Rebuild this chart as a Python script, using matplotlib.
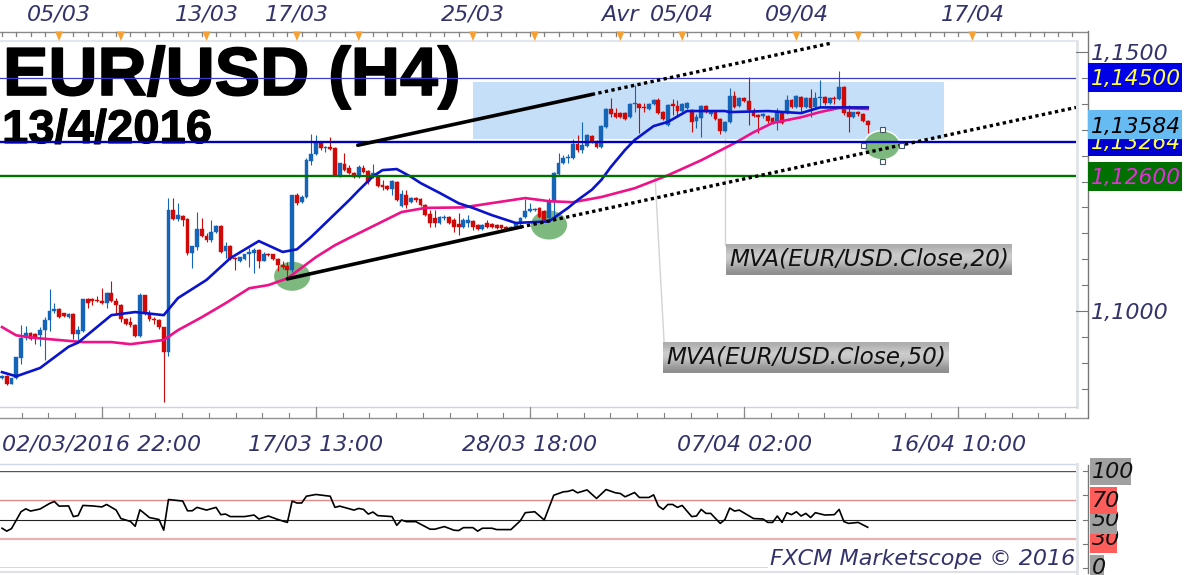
import numpy as np
import matplotlib
matplotlib.use("Agg")
import matplotlib.pyplot as plt
import matplotlib.patheffects as pe
from matplotlib.patches import Ellipse, Rectangle, Polygon

# -----------------------------
# 1. Data
# -----------------------------
opens = [
    1.0870, 1.0874, 1.0859, 1.0870, 1.0909, 1.0948, 1.0958, 1.0956, 1.0954, 1.0963,
    1.0983, 1.1000, 1.1004, 1.0996, 1.0988, 1.0994, 1.0956, 1.0962, 1.1023, 1.1023,
    1.1021, 1.1019, 1.1015, 1.1035, 1.1019, 1.1012, 1.0985, 1.0979, 1.0973, 1.0952,
    1.1031, 1.0994, 1.0985, 1.0983, 1.0969, 1.0921, 1.1195, 1.1178, 1.1183, 1.1178,
    1.1112, 1.1124, 1.1158, 1.1145, 1.1137, 1.1153, 1.1164, 1.1116, 1.1126, 1.1102,
    1.1097, 1.1100, 1.1110, 1.1112, 1.1118, 1.1097, 1.1110, 1.1110, 1.1100, 1.1089,
    1.1087, 1.1079, 1.1224, 1.1210, 1.1220, 1.1290, 1.1303, 1.1324, 1.1314, 1.1316,
    1.1314, 1.1263, 1.1284, 1.1276, 1.1266, 1.1259, 1.1276, 1.1270, 1.1259, 1.1259,
    1.1243, 1.1241, 1.1235, 1.1249, 1.1203, 1.1224, 1.1210, 1.1218, 1.1216, 1.1205,
    1.1187, 1.1180, 1.1170, 1.1180, 1.1181, 1.1176, 1.1168, 1.1162, 1.1170, 1.1174,
    1.1166, 1.1158, 1.1170, 1.1168, 1.1166, 1.1166, 1.1162, 1.1158, 1.1162, 1.1168,
    1.1181, 1.1193, 1.1195, 1.1199, 1.1193, 1.1180, 1.1210, 1.1264, 1.1286, 1.1295,
    1.1295, 1.1322, 1.1311, 1.1318, 1.1337, 1.1328, 1.1316, 1.1355, 1.1390, 1.1382,
    1.1382, 1.1382, 1.1374, 1.1399, 1.1399, 1.1393, 1.1390, 1.1399, 1.1407, 1.1384,
    1.1359, 1.1399, 1.1395, 1.1386, 1.1391, 1.1388, 1.1366, 1.1372, 1.1395, 1.1380,
    1.1384, 1.1370, 1.1347, 1.1364, 1.1415, 1.1395, 1.1411, 1.1405, 1.1384, 1.1378,
    1.1376, 1.1376, 1.1372, 1.1362, 1.1382, 1.1382, 1.1407, 1.1393, 1.1413, 1.1393,
    1.1411, 1.1393, 1.1411, 1.1413, 1.1401, 1.1411, 1.1409, 1.1432, 1.1384, 1.1374,
    1.1384, 1.1380, 1.1366,
]
highs = [
    1.0876, 1.0876, 1.0870, 1.0911, 1.0973, 1.0971, 1.0960, 1.0958, 1.0969, 1.0988,
    1.1043, 1.1015, 1.1006, 1.0996, 1.0996, 1.0996, 1.0971, 1.1023, 1.1025, 1.1025,
    1.1029, 1.1044, 1.1037, 1.1058, 1.1025, 1.1013, 1.0986, 1.0988, 1.0975, 1.1035,
    1.1031, 1.1002, 1.0988, 1.0985, 1.0969, 1.1218, 1.1218, 1.1208, 1.1185, 1.1180,
    1.1126, 1.1191, 1.1180, 1.1151, 1.1176, 1.1166, 1.1166, 1.1133, 1.1127, 1.1104,
    1.1104, 1.1110, 1.1122, 1.1122, 1.1120, 1.1114, 1.1112, 1.1110, 1.1102, 1.1097,
    1.1095, 1.1224, 1.1228, 1.1224, 1.1295, 1.1341, 1.1339, 1.1326, 1.1318, 1.1335,
    1.1316, 1.1286, 1.1305, 1.1282, 1.1268, 1.1282, 1.1282, 1.1272, 1.1284, 1.1261,
    1.1253, 1.1243, 1.1253, 1.1251, 1.1234, 1.1234, 1.1220, 1.1220, 1.1218, 1.1207,
    1.1195, 1.1195, 1.1183, 1.1185, 1.1183, 1.1180, 1.1189, 1.1180, 1.1185, 1.1176,
    1.1168, 1.1168, 1.1176, 1.1170, 1.1168, 1.1166, 1.1164, 1.1164, 1.1172, 1.1181,
    1.1216, 1.1208, 1.1199, 1.1201, 1.1195, 1.1218, 1.1268, 1.1305, 1.1301, 1.1303,
    1.1332, 1.1339, 1.1364, 1.1341, 1.1339, 1.1330, 1.1359, 1.1391, 1.1411, 1.1391,
    1.1384, 1.1384, 1.1401, 1.1436, 1.1401, 1.1401, 1.1401, 1.1409, 1.1411, 1.1386,
    1.1399, 1.1409, 1.1407, 1.1401, 1.1403, 1.1390, 1.1380, 1.1397, 1.1397, 1.1388,
    1.1386, 1.1372, 1.1366, 1.1430, 1.1424, 1.1413, 1.1413, 1.1452, 1.1391, 1.1380,
    1.1382, 1.1378, 1.1374, 1.1391, 1.1384, 1.1417, 1.1409, 1.1417, 1.1415, 1.1413,
    1.1428, 1.1422, 1.1446, 1.1415, 1.1413, 1.1415, 1.1463, 1.1434, 1.1397, 1.1384,
    1.1386, 1.1382, 1.1368,
]
lows = [
    1.0869, 1.0857, 1.0859, 1.0869, 1.0898, 1.0944, 1.0944, 1.0936, 1.0933, 1.0905,
    1.0962, 1.0996, 1.0986, 1.0988, 1.0986, 1.0946, 1.0944, 1.0960, 1.1006, 1.1012,
    1.1017, 1.1013, 1.1006, 1.1017, 1.0996, 1.0979, 1.0973, 1.0969, 1.0950, 1.0950,
    1.0992, 1.0981, 1.0975, 1.0965, 1.0824, 1.0913, 1.1176, 1.1174, 1.1164, 1.1108,
    1.1083, 1.1118, 1.1143, 1.1133, 1.1133, 1.1151, 1.1112, 1.1102, 1.1098, 1.1079,
    1.1095, 1.1098, 1.1085, 1.1073, 1.1083, 1.1097, 1.1106, 1.1098, 1.1077, 1.1081,
    1.1060, 1.1075, 1.1205, 1.1208, 1.1218, 1.1282, 1.1301, 1.1311, 1.1307, 1.1311,
    1.1261, 1.1259, 1.1270, 1.1264, 1.1257, 1.1257, 1.1266, 1.1245, 1.1257, 1.1239,
    1.1234, 1.1234, 1.1224, 1.1212, 1.1201, 1.1199, 1.1208, 1.1210, 1.1203, 1.1183,
    1.1162, 1.1162, 1.1168, 1.1176, 1.1168, 1.1153, 1.1147, 1.1160, 1.1162, 1.1156,
    1.1156, 1.1156, 1.1160, 1.1160, 1.1158, 1.1158, 1.1156, 1.1156, 1.1160, 1.1166,
    1.1180, 1.1191, 1.1193, 1.1180, 1.1174, 1.1178, 1.1176, 1.1263, 1.1284, 1.1286,
    1.1293, 1.1307, 1.1305, 1.1316, 1.1324, 1.1314, 1.1314, 1.1353, 1.1374, 1.1372,
    1.1372, 1.1368, 1.1372, 1.1384, 1.1343, 1.1384, 1.1388, 1.1397, 1.1380, 1.1368,
    1.1357, 1.1378, 1.1374, 1.1384, 1.1390, 1.1345, 1.1353, 1.1335, 1.1382, 1.1376,
    1.1368, 1.1341, 1.1345, 1.1362, 1.1391, 1.1393, 1.1403, 1.1359, 1.1374, 1.1343,
    1.1372, 1.1362, 1.1361, 1.1349, 1.1361, 1.1380, 1.1391, 1.1391, 1.1382, 1.1391,
    1.1374, 1.1391, 1.1393, 1.1397, 1.1399, 1.1399, 1.1407, 1.1378, 1.1345, 1.1372,
    1.1376, 1.1364, 1.1343,
]
closes = [
    1.0874, 1.0859, 1.0870, 1.0911, 1.0948, 1.0958, 1.0946, 1.0948, 1.0963, 1.0983,
    1.1000, 1.1004, 1.0988, 1.0990, 1.0994, 1.0956, 1.0963, 1.1023, 1.1015, 1.1019,
    1.1019, 1.1015, 1.1035, 1.1019, 1.1012, 1.0985, 1.0975, 1.0973, 1.0952, 1.1031,
    1.0996, 1.0985, 1.0983, 1.0969, 1.0921, 1.1195, 1.1178, 1.1185, 1.1176, 1.1112,
    1.1126, 1.1158, 1.1145, 1.1137, 1.1153, 1.1164, 1.1114, 1.1126, 1.1100, 1.1100,
    1.1104, 1.1110, 1.1114, 1.1118, 1.1097, 1.1110, 1.1108, 1.1100, 1.1089, 1.1085,
    1.1079, 1.1224, 1.1208, 1.1220, 1.1292, 1.1303, 1.1326, 1.1314, 1.1316, 1.1313,
    1.1263, 1.1286, 1.1272, 1.1266, 1.1259, 1.1278, 1.1268, 1.1249, 1.1266, 1.1241,
    1.1239, 1.1235, 1.1251, 1.1214, 1.1226, 1.1205, 1.1218, 1.1214, 1.1205, 1.1185,
    1.1170, 1.1170, 1.1181, 1.1181, 1.1170, 1.1162, 1.1162, 1.1176, 1.1176, 1.1162,
    1.1158, 1.1166, 1.1162, 1.1162, 1.1160, 1.1160, 1.1158, 1.1162, 1.1170, 1.1180,
    1.1193, 1.1197, 1.1197, 1.1181, 1.1176, 1.1210, 1.1266, 1.1286, 1.1295, 1.1297,
    1.1322, 1.1311, 1.1320, 1.1339, 1.1326, 1.1316, 1.1357, 1.1390, 1.1380, 1.1374,
    1.1374, 1.1370, 1.1399, 1.1401, 1.1391, 1.1391, 1.1399, 1.1407, 1.1382, 1.1370,
    1.1397, 1.1395, 1.1386, 1.1399, 1.1401, 1.1364, 1.1374, 1.1395, 1.1384, 1.1384,
    1.1370, 1.1347, 1.1364, 1.1415, 1.1393, 1.1411, 1.1405, 1.1388, 1.1376, 1.1374,
    1.1380, 1.1366, 1.1362, 1.1384, 1.1362, 1.1407, 1.1393, 1.1415, 1.1393, 1.1411,
    1.1391, 1.1411, 1.1413, 1.1401, 1.1411, 1.1409, 1.1432, 1.1382, 1.1374, 1.1384,
    1.1380, 1.1366, 1.1359,
]

ma20_bars = [0, 3, 8, 14, 16, 23, 28, 34, 37, 43, 48, 54, 59, 62, 65, 73, 75, 77, 78, 80, 83,
             86, 88, 92, 96, 99, 103, 108, 115, 119, 121, 124, 126, 128, 131, 133, 137, 140,
             144, 152, 153, 161, 168, 172, 177, 182]
ma20_vals = [1.0882, 1.0874, 1.0890, 1.0931, 1.0939, 1.0992, 1.0998, 1.0992, 1.1025, 1.1060,
             1.1102, 1.1135, 1.1114, 1.1119, 1.1143, 1.1214, 1.1233, 1.1251, 1.1260, 1.1272,
             1.1274, 1.1259, 1.1247, 1.1228, 1.1208, 1.1199, 1.1185, 1.1170, 1.1173, 1.1199,
             1.1214, 1.1234, 1.1253, 1.1278, 1.1311, 1.1330, 1.1357, 1.1365, 1.1386,
             1.1386, 1.1384, 1.1386, 1.1382, 1.1393, 1.1393, 1.1393]
ma50_bars = [0, 3, 7, 17, 23, 27, 34, 37, 42, 47, 52, 56, 60, 66, 70, 73, 84, 89, 97, 110, 115,
             120, 126, 133, 140, 147, 154, 158, 162, 168, 172, 176, 182]
ma50_vals = [1.0969, 1.0953, 1.0948, 1.0940, 1.0940, 1.0936, 1.0944, 1.0963, 1.0988, 1.1015,
             1.1044, 1.1050, 1.1063, 1.1104, 1.1127, 1.1141, 1.1191, 1.1199, 1.1200, 1.1218,
             1.1212, 1.1210, 1.1220, 1.1237, 1.1262, 1.1291, 1.1324, 1.1345, 1.1363, 1.1374,
             1.1384, 1.1392, 1.1390]

rsi_bars = [0, 1, 2, 4, 5, 6, 8, 10, 11, 12, 14, 15, 16, 17, 19, 21, 22, 24, 25, 27, 28, 29,
            31, 33, 34, 35, 38, 39, 40, 41, 43, 45, 46, 47, 48, 51, 53, 54, 56, 58, 60, 61,
            62, 63, 64, 66, 69, 70, 71, 74, 75, 76, 77, 78, 79, 82, 83, 84, 85, 87, 90, 91,
            93, 95, 96, 97, 99, 100, 101, 103, 104, 107, 109, 110, 112, 114, 116, 118, 119,
            120, 121, 123, 125, 127, 129, 130, 131, 133, 134, 136, 137, 138, 139, 140, 141,
            142, 143, 145, 146, 147, 148, 149, 151, 152, 153, 154, 155, 158, 160, 161, 162,
            163, 164, 165, 166, 167, 168, 169, 170, 171, 173, 175, 176, 177, 178, 180, 182]
rsi_vals = [41, 38, 40.6, 58, 61, 58.7, 60.8, 66.5, 68.6, 63.8, 64, 53, 54, 64.5, 64, 63, 65.5,
            59.7, 51, 48, 43, 60, 52, 50, 39, 70.6, 69, 59, 59, 62.5, 59.7, 62.5, 55, 55.6, 53,
            53, 54.6, 50.5, 53.6, 50, 47, 69, 67, 67, 74, 75.8, 74, 62.5, 63.8, 59.7, 61.4,
            60.4, 55.6, 57.7, 54, 53, 44, 49.5, 47.8, 47.8, 40, 40, 42.7, 39, 38.6, 41.6, 41.6,
            38, 41, 41, 39.6, 39.6, 48.8, 57, 58, 49.5, 75, 78.5, 79, 80.5, 77.5, 80.5, 71.7,
            80.9, 77.5, 76.8, 73.4, 77.8, 72.7, 72.7, 75.4, 64, 60.4, 65.5, 65.5, 62.5, 64.5,
            53, 53.6, 60.4, 56.3, 56.3, 46, 50, 61.8, 58.7, 59.7, 51, 50.5, 47, 47, 53.6, 47,
            57, 55, 58, 53.6, 56.3, 52, 57, 54.6, 55, 60.4, 47.8, 46, 47, 42]

price_levels = [1.14500, 1.13264, 1.12600]
level_colors = ["#3c3cc8", "#0000b8", "#007000"]
level_widths = [0.9, 1.7, 1.7]
level_text_colors = ["#ffff40", "#ffff40", "#e030d8"]
level_box_colors = ["#0000e6", "#0000d0", "#007000"]

top_bars = [12, 25, 43, 62, 75, 99, 112, 130, 143, 167, 180, 204]
top_labels = {12: "05/03", 43: "13/03", 62: "17/03", 99: "25/03", 130: "Avr", 143: "05/04",
              167: "09/04", 204: "17/04"}
bottom_bars = [21, 66, 111, 156, 201]
bottom_labels = ["02/03/2016 22:00", "17/03 13:00", "28/03 18:00", "07/04 02:00", "16/04 10:00"]

# -----------------------------
# 2. Figure layout (pixels)
# -----------------------------
W, H = 1200, 575
TXT = "#33336b"
plt.rcParams["font.family"] = "DejaVu Sans"
fig = plt.figure(figsize=(W / 100, H / 100), dpi=100, facecolor="white")


def rect(x0, y0, x1, y1):
    return [x0 / W, 1 - y1 / H, (x1 - x0) / W, (y1 - y0) / H]


def price_px(p):
    return 52 + (1.15 - p) * 5180


main = fig.add_axes(rect(0, 41, 1076, 407))
rsi = fig.add_axes(rect(0, 471, 1076, 568))
over = fig.add_axes([0, 0, 1, 1], zorder=10)
over.patch.set_alpha(0)
over.axis("off")

xlim = (-0.42, 225.8)
main.set_xlim(xlim)
main.set_ylim(1.08147, 1.15212)
rsi.set_xlim(xlim)
rsi.set_ylim(0, 100)
for a in (main, rsi):
    a.set_xticks([])
    a.set_yticks([])
    for s in a.spines.values():
        s.set_visible(False)

# -----------------------------
# 3. Price panel
# -----------------------------
main.add_patch(Rectangle((99, 1.1332), 99, 0.0110, fc="#c6dff8", ec="none", zorder=1))

main.text(3, 77, "EUR/USD (H4)", transform=over.transData, family="Liberation Sans",
          weight="bold", fontsize=49, va="center", color="black", zorder=2,
          path_effects=[pe.withStroke(linewidth=1.2, foreground="black")])
main.text(2, 131, "13/4/2016", transform=over.transData, family="Liberation Sans",
          weight="bold", fontsize=34, va="center", color="black", zorder=2,
          path_effects=[pe.withStroke(linewidth=0.8, foreground="black")])

# leader lines of the two labels
main.plot([152, 152], [1.1362, 1.1127], color="#d4d4d4", lw=1, zorder=1.5)
main.plot([137.3, 139.2], [1.1259, 1.0940], color="#d4d4d4", lw=1, zorder=1.5)

for bar, price, edge in [(61, 1.1067, "none"), (115, 1.1166, "none"), (185, 1.1320, "white")]:
    main.add_patch(Ellipse((bar, price), 7.6, 0.0056, fc="#7db97f", ec=edge, lw=1, zorder=2.5))

bars = np.arange(len(closes))
o, h, l, c = map(np.array, (opens, highs, lows, closes))
cols = np.where(c >= o, "#1464b8", "#d00808")
main.vlines(bars, l, h, colors=cols, lw=0.8, zorder=3)
main.bar(bars, np.abs(c - o), bottom=np.minimum(o, c), width=0.8, color=cols,
         edgecolor=cols, lw=0.3, zorder=3.2)

main.plot(ma50_bars, ma50_vals, color="#ee1188", lw=1.9, zorder=4)
main.plot(ma20_bars, ma20_vals, color="#0a14cc", lw=1.9, zorder=4.2)

for price, col, lw in zip(price_levels, level_colors, level_widths):
    main.axhline(price, color=col, lw=lw, zorder=5)

# channel lines
main.plot([60, 109], [1.1062, 1.1162], color="black", lw=2.6, zorder=6, solid_capstyle="round")
main.plot([109, 225.8], [1.1162, 1.1393], color="black", lw=2.4, ls=(0, (1, 1)), zorder=6)
main.plot([74.8, 124], [1.1320, 1.1418], color="black", lw=2.6, zorder=6, solid_capstyle="round")
main.plot([124, 174.3], [1.1418, 1.1517], color="black", lw=2.4, ls=(0, (1, 1)), zorder=6)

# -----------------------------
# 4. RSI panel
# -----------------------------
rsi.axhline(100, color="#555555", lw=1)
rsi.axhline(0, color="#333333", lw=1)
rsi.axhline(70, color="#e08a8a", lw=1)
rsi.axhline(50, color="#222222", lw=0.8)
rsi.axhline(30, color="#e8b0b0", lw=1.6)
rsi.plot(rsi_bars, rsi_vals, color="black", lw=1.2, zorder=4)

# -----------------------------
# 5. Rulers, frames and labels
# -----------------------------
over.set_xlim(0, W)
over.set_ylim(H, 0)


def bar_px(b):
    return 2 + 4.757 * b


# frames
over.plot([0, 1087], [31.5, 31.5], color="#8a8a8a", lw=1)
over.plot([0, 1076], [41, 41], color="#e2e6ee", lw=1.5)
over.plot([1076.5, 1076.5], [41, 407], color="#dfe2e8", lw=2)
over.plot([0, 1076], [407, 407], color="#ccd4e4", lw=1)
over.plot([0, 1087], [417.5, 417.5], color="#909090", lw=1)
over.plot([1087.5, 1087.5], [31, 418], color="#777777", lw=1)
over.plot([0, 1076], [464, 464], color="#d0d8e8", lw=1)
over.plot([0, 1076], [572, 572], color="#dde0e6", lw=1.5)
over.plot([1076.5, 1076.5], [464, 573], color="#dfe2e8", lw=2)
over.plot([1087.5, 1087.5], [465, 573], color="#777777", lw=1)

# top ruler
for b in np.arange(0, 226, 3):
    over.plot([bar_px(b)] * 2, [32, 36], color="#808080", lw=0.9)
for b in top_bars:
    x = bar_px(b)
    over.add_patch(Polygon([(x - 4, 31.5), (x + 4, 31.5), (x, 41)], fc="#f5a030", ec="none", zorder=3))
    if b in top_labels:
        over.text(x, 15, top_labels[b], ha="center", va="center", style="italic",
                  fontsize=16, color=TXT)

# bottom ruler
for b in np.arange(21 - 3 * 5.625, 226, 5.625):
    over.plot([bar_px(b)] * 2, [413, 417], color="#808080", lw=0.8)
for b, txt in zip(bottom_bars, bottom_labels):
    x = bar_px(b)
    over.plot([x, x], [407, 417], color="#8a8a8a", lw=0.9)
    over.text(x, 445, txt, ha="center", va="center", style="italic", fontsize=16, color=TXT)

# price axis
for p in np.arange(1.085, 1.1501, 0.005):
    y = price_px(p)
    x0 = 1076 if round(p, 3) in (1.15, 1.10) else 1082
    over.plot([x0, 1087], [y, y], color="#777777", lw=0.8)
for p, txt in [(1.15, "1,1500"), (1.10, "1,1000")]:
    over.text(1091, price_px(p) + 2, txt, va="center", style="italic", fontsize=16, color=TXT)

# price tags, the current price sits over 1,13264
for p, tc, bc in zip(price_levels, level_text_colors, level_box_colors):
    y = price_px(p)
    over.add_patch(Rectangle((1087.5, y - 14.5), 94, 29, fc=bc, ec="none", zorder=3))
    over.text(1091, y + 1.5, f"{p:.5f}".replace(".", ","), va="center", style="italic",
              fontsize=15.7, color=tc, zorder=3.1)
y = price_px(1.13584)
over.add_patch(Rectangle((1087.5, y - 15), 94, 29, fc="#66bcf2", ec="none", zorder=4))
over.text(1091, y + 1.5, "1,13584", va="center", style="italic", fontsize=15.7, color="black",
          zorder=4.1)

# rsi axis tags
for v in (100, 75, 50, 25, 0):
    y = 568 - 0.97 * v
    over.plot([1083, 1087], [y, y], color="#777777", lw=0.8)
rsi_tags = [(0, "0", "#a0a0a0", 14, 3), (30, "30", "#ff5c5c", 27, 3.2),
            (50, "50", "#a0a0a0", 27, 3.4), (70, "70", "#ff5c5c", 27, 3.6),
            (100, "100", "#a0a0a0", 41, 3.8)]
for v, txt, col, wid, zo in rsi_tags:
    y = 568 - 0.97 * v
    over.add_patch(Rectangle((1090, y - 13), wid, 27, fc=col, ec="none", zorder=zo))
    over.text(1092, y + 0.5, txt, va="center", style="italic", fontsize=16, color="#111111",
              zorder=zo + 0.1, clip_on=True)

# moving average tags, grey shading from top to bottom
grad = np.array([0.68, 0.74, 0.80, 0.78, 0.70, 0.62, 0.56]).reshape(-1, 1)
for x0, y0, x1, y1, txt in [(726, 244, 1012, 275, "MVA(EUR/USD.Close,20)"),
                            (663, 342, 949, 373, "MVA(EUR/USD.Close,50)")]:
    over.imshow(grad, extent=(x0, x1, y1, y0), cmap="gray", vmin=0, vmax=1, aspect="auto",
                interpolation="bilinear", zorder=5)
    over.text((x0 + x1) / 2, (y0 + y1) / 2, txt, ha="center", va="center", style="italic",
              fontsize=16.7, color="#111111", zorder=6)
over.set_xlim(0, W)
over.set_ylim(H, 0)

# selection handles on the last ellipse
for x, y in [(882, 129), (882, 161), (863, 145), (901, 145)]:
    over.add_patch(Rectangle((x - 2.5, y - 2.5), 5, 5, fc="white", ec="#445566", lw=0.8, zorder=7))

over.text(1075, 559, "FXCM Marketscope © 2016", ha="right", va="center", style="italic",
          fontsize=16, color=TXT, zorder=8,
          bbox=dict(fc="white", ec="none", pad=1))

fig.savefig("out.png", dpi=100)
